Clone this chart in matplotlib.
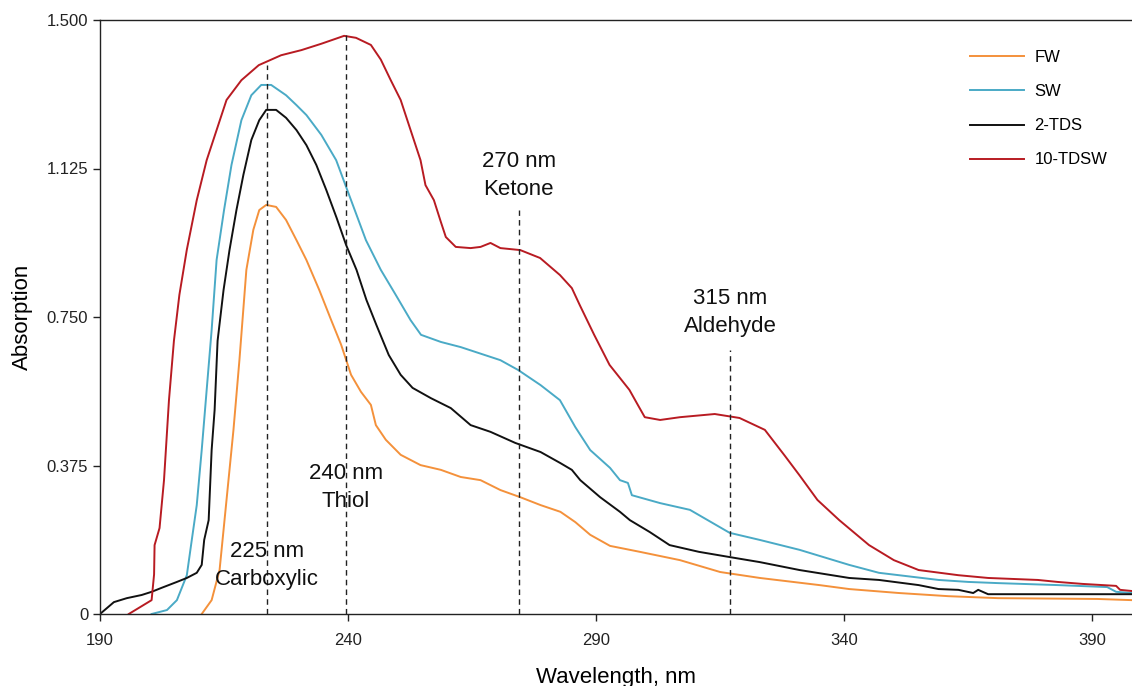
import matplotlib
matplotlib.use("Agg")
import matplotlib.pyplot as plt

plt.rcParams['font.family'] = ['Liberation Sans', 'DejaVu Sans']

# ---- data ----
red_x = [195.8, 200.4, 200.9, 201.0, 202.0, 202.9, 203.9, 204.9, 206.0, 207.5, 209.5, 211.5, 213.5,
         215.5, 218.5, 222.0, 226.5, 230.6, 234.6, 239.2, 241.6, 244.6, 246.6, 248.6, 250.6, 252.6,
         254.6, 255.6, 257.3, 258.7, 259.7, 261.7, 264.7, 266.7, 268.7, 270.7, 274.7, 278.7, 282.7,
         285.1, 286.7, 289.6, 292.7, 296.7, 298.4, 299.8, 302.9, 306.9, 313.9, 318.9, 324.0, 328.0,
         331.0, 334.6, 339.0, 345.0, 350.0, 355.0, 363.0, 369.0, 379.0, 383.0, 388.0, 394.8, 395.6, 398.0]
red_y = [0.0, 0.035, 0.10, 0.174, 0.217, 0.338, 0.54, 0.69, 0.806, 0.92, 1.045, 1.146, 1.222,
         1.298, 1.348, 1.386, 1.411, 1.424, 1.44, 1.46, 1.455, 1.437, 1.40, 1.348, 1.298, 1.222,
         1.146, 1.083, 1.045, 0.99, 0.952, 0.927, 0.924, 0.927, 0.937, 0.924, 0.919, 0.899, 0.856,
         0.823, 0.78, 0.705, 0.629, 0.566, 0.528, 0.497, 0.49, 0.497, 0.505, 0.495, 0.465, 0.40,
         0.35, 0.288, 0.237, 0.174, 0.136, 0.111, 0.098, 0.091, 0.086, 0.081, 0.076, 0.071, 0.061, 0.058]

blue_x = [200.4, 203.5, 205.5, 207.5, 208.5, 209.5, 210.5, 211.5, 212.5, 213.5, 215.0, 216.5, 218.5,
          220.5, 222.5, 224.5, 227.5, 229.6, 231.6, 234.6, 237.6, 240.6, 243.6, 246.6, 249.6, 252.6,
          254.7, 258.7, 262.7, 270.7, 274.3, 278.8, 282.7, 285.8, 288.8, 292.8, 294.8, 296.4, 297.2,
          302.9, 308.9, 316.9, 323.0, 331.0, 341.0, 347.0, 351.0, 359.0, 365.0, 371.0, 383.0, 393.0,
          394.8, 398.0]
blue_y = [0.0, 0.01, 0.035, 0.098, 0.187, 0.275, 0.414, 0.566, 0.717, 0.894, 1.02, 1.134, 1.247,
          1.31, 1.336, 1.336, 1.31, 1.285, 1.26, 1.21, 1.146, 1.045, 0.944, 0.869, 0.806, 0.742,
          0.705, 0.687, 0.674, 0.641, 0.616, 0.578, 0.54, 0.472, 0.414, 0.369, 0.338, 0.331, 0.30,
          0.28, 0.263, 0.205, 0.187, 0.162, 0.124, 0.104, 0.098, 0.086, 0.081, 0.078, 0.073, 0.068,
          0.056, 0.053]

black_x = [190.0, 191.4, 192.8, 195.4, 198.4, 200.4, 202.4, 205.5, 207.5, 209.5, 210.5, 211.0, 211.9,
           212.5, 213.1, 213.7, 214.9, 216.1, 217.5, 218.9, 220.5, 222.1, 223.5, 225.5, 227.5, 229.6,
           231.6, 233.6, 235.6, 237.7, 239.6, 241.7, 243.7, 245.7, 248.2, 250.6, 253.0, 256.7, 260.7,
           264.7, 268.7, 273.7, 278.8, 282.8, 285.1, 286.8, 290.8, 294.8, 296.8, 300.8, 304.8, 310.7,
           316.8, 323.0, 331.0, 341.0, 347.0, 355.0, 359.0, 363.0, 366.0, 367.0, 369.0, 398.0]
black_y = [0.0, 0.015, 0.03, 0.04, 0.048, 0.056, 0.066, 0.081, 0.091, 0.104, 0.124, 0.187, 0.237,
           0.414, 0.515, 0.69, 0.818, 0.919, 1.02, 1.109, 1.197, 1.247, 1.273, 1.273, 1.253, 1.222,
           1.184, 1.134, 1.071, 1.0, 0.932, 0.869, 0.793, 0.73, 0.654, 0.604, 0.571, 0.545, 0.52,
           0.477, 0.46, 0.432, 0.409, 0.381, 0.364, 0.338, 0.295, 0.258, 0.237, 0.207, 0.174, 0.157,
           0.144, 0.131, 0.111, 0.091, 0.086, 0.073, 0.063, 0.061, 0.053, 0.061, 0.05, 0.05]

orange_x = [210.5, 212.5, 214.1, 215.5, 216.9, 218.1, 219.5, 220.9, 222.1, 223.5, 225.5, 227.5, 229.6,
            231.6, 234.2, 236.6, 238.6, 240.6, 242.6, 244.6, 245.6, 247.6, 250.6, 254.6, 258.7, 262.7,
            266.7, 270.7, 274.7, 278.8, 282.8, 285.8, 288.8, 292.8, 298.8, 306.9, 315.0, 323.0, 335.0,
            341.0, 351.0, 361.0, 371.0, 391.0, 398.0]
orange_y = [0.0, 0.035, 0.111, 0.288, 0.465, 0.641, 0.869, 0.97, 1.02, 1.033, 1.028, 0.995, 0.944,
            0.894, 0.818, 0.742, 0.68, 0.604, 0.561, 0.528, 0.477, 0.44, 0.402, 0.376, 0.364, 0.346,
            0.338, 0.313, 0.295, 0.275, 0.258, 0.232, 0.20, 0.172, 0.157, 0.136, 0.106, 0.091, 0.073,
            0.063, 0.053, 0.045, 0.04, 0.038, 0.035]

series_labels = ['FW', 'SW', '2-TDS', '10-TDSW']
series_colors = ['#F4913B', '#4AAAC6', '#111111', '#B81B22']

marker_x = [223.7, 239.6, 274.4, 317.0]
marker_top = [1.386, 1.462, 1.02, 0.667]
marker_text = ['225 nm\nCarboxylic', '240 nm\nThiol', '270 nm\nKetone', '315 nm\nAldehyde']
marker_text_top = [0.185, 0.382, 1.170, 0.824]

yticks = [0, 0.375, 0.750, 1.125, 1.500]
ytick_labels = ['0', '0.375', '0.750', '1.125', '1.500']
xticks = [190, 240, 290, 340, 390]

# ---- figure ----
W, H = 1132, 686
fig = plt.figure(figsize=(W / 100, H / 100), dpi=100)
ax = fig.add_axes([100 / W, 1 - 614 / H, 1 - 100 / W, (614 - 20) / H])

for (xs, ys), lab, col in zip([(orange_x, orange_y), (blue_x, blue_y), (black_x, black_y), (red_x, red_y)],
                              series_labels, series_colors):
    ax.plot(xs, ys, color=col, lw=1.4, label=lab)

for mx, mt, txt, ty in zip(marker_x, marker_top, marker_text, marker_text_top):
    ax.plot([mx, mx], [0, mt], color='#222222', lw=1.0, ls=(0, (4, 3)))
    ax.text(mx, ty, txt, ha='center', va='top', fontsize=16, linespacing=1.47, color='#111111')

ax.set_xlim(190, 398)
ax.set_ylim(0, 1.5)
ax.set_xticks(xticks)
ax.set_yticks(yticks)
ax.set_yticklabels(ytick_labels)
ax.tick_params(direction='out', length=5, width=1, labelsize=12, colors='#222222')
ax.tick_params(axis='x', pad=8.5)
ax.tick_params(axis='y', pad=3.5)
ax.spines['right'].set_visible(False)
for s in ['left', 'bottom', 'top']:
    ax.spines[s].set_color('#222222')
    ax.spines[s].set_linewidth(1.0)

ax.set_ylabel('Absorption', fontsize=16, labelpad=10)
ax.set_xlabel('Wavelength, nm', fontsize=16, labelpad=13.5)

ax.legend(loc='upper left', bbox_to_anchor=(970 / W, 1 - 50 / H), bbox_transform=fig.transFigure,
          frameon=False, fontsize=12, handlelength=3.25, labelspacing=1.15, handletextpad=0.62,
          borderpad=0, borderaxespad=0)

fig.savefig('out.png', dpi=100)
